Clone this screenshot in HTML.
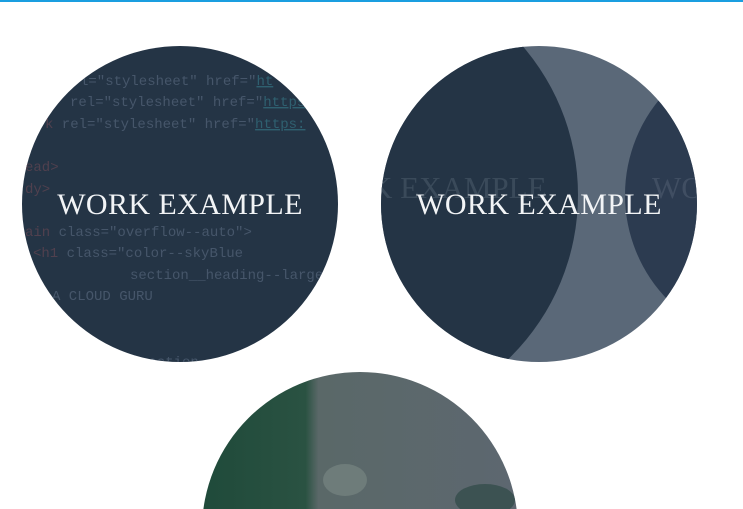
<!DOCTYPE html>
<html><head><style>
html,body{margin:0;padding:0;background:#fff;width:743px;height:509px;overflow:hidden}
</style></head><body>
<svg width="743" height="509" xmlns="http://www.w3.org/2000/svg">
<defs>
<clipPath id="c1"><circle cx="180" cy="204" r="158"/></clipPath>
<clipPath id="c2"><circle cx="539" cy="204" r="158"/></clipPath>
<clipPath id="c3"><circle cx="360" cy="530" r="158"/></clipPath>
<linearGradient id="g3" x1="0" y1="0" x2="1" y2="0">
<stop offset="0" stop-color="#1f4a3a"/><stop offset="0.33" stop-color="#2a5242"/><stop offset="0.37" stop-color="#5a6868"/><stop offset="1" stop-color="#5d6770"/>
</linearGradient>
</defs>
<rect x="0" y="0" width="743" height="2" fill="#1a9ee0"/>
<g clip-path="url(#c1)">
<rect x="0" y="40" width="360" height="330" fill="#243445"/>
<g font-family="Liberation Mono, monospace" font-size="14" fill="#46566a">
<text x="80" y="85">l="stylesheet" href="<tspan fill="#2f6070" text-decoration="underline">ht</tspan></text>
<text x="70" y="106">rel="stylesheet" href="<tspan fill="#2f6070" text-decoration="underline">https</tspan></text>
<text x="45" y="128"><tspan fill="#50404e">k</tspan> rel="stylesheet" href="<tspan fill="#2f6070" text-decoration="underline">https:</tspan></text>
<text x="25" y="171" fill="#50404e">ead&gt;</text>
<text x="25" y="193" fill="#50404e">dy&gt;</text>
<text x="25" y="236"><tspan fill="#50404e">ain</tspan> class="overflow--auto"&gt;</text>
<text x="33" y="257"><tspan fill="#50404e">&lt;h1</tspan> class="color--skyBlue</text>
<text x="130" y="279">section__heading--large</text>
<text x="52" y="300">A CLOUD GURU</text>
<text x="140" y="366">section</text>
</g>
<text x="180" y="214" text-anchor="middle" font-family="Liberation Serif, serif" font-size="30" letter-spacing="0.4" fill="#f2f4f6">WORK EXAMPLE</text>
</g>
<g clip-path="url(#c2)">
<rect x="370" y="40" width="340" height="330" fill="#5a6878"/>
<circle cx="350" cy="195" r="228" fill="#243445"/>
<circle cx="775" cy="195" r="150" fill="#2c3b50"/>
<text x="370" y="198" font-family="Liberation Serif, serif" font-size="31" fill="#3a4a5a">K EXAMPLE</text>
<text x="652" y="198" font-family="Liberation Serif, serif" font-size="31" fill="#404e62">WO</text>
<text x="539" y="214" text-anchor="middle" font-family="Liberation Serif, serif" font-size="30" letter-spacing="0.4" fill="#f2f4f6">WORK EXAMPLE</text>
</g>
<g clip-path="url(#c3)">
<rect x="200" y="370" width="320" height="140" fill="url(#g3)"/>
<ellipse cx="345" cy="480" rx="22" ry="16" fill="#6e7c7a"/>
<ellipse cx="485" cy="500" rx="30" ry="16" fill="#3c5252"/>
</g>
</svg>
</body></html>
